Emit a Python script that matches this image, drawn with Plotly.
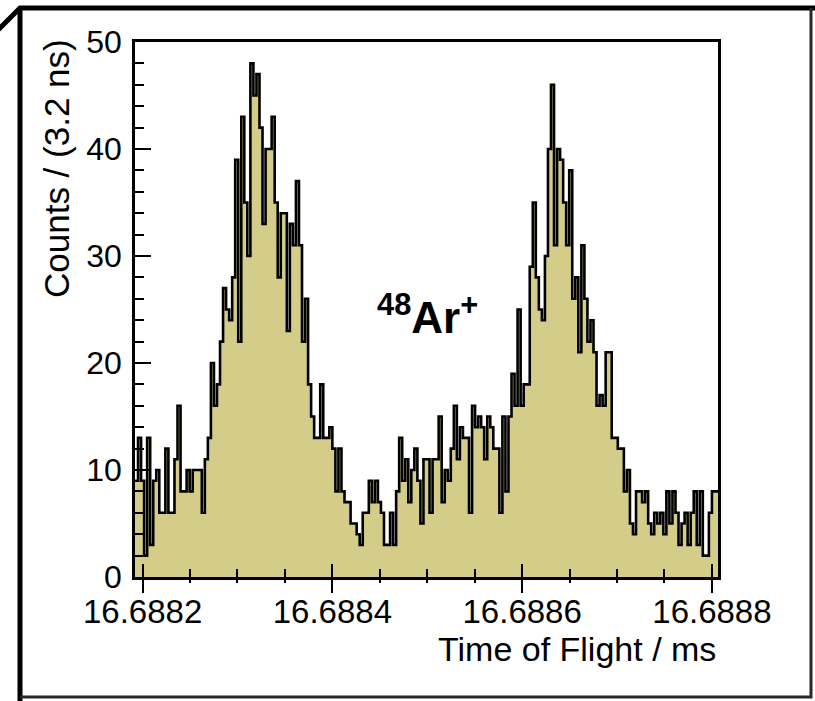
import plotly.graph_objects as go

# ---- data ----
bin_start = 16.688192      # ms, left edge of first bin
bin_width = 0.0000032      # ms (3.2 ns)
counts = [
    9, 13, 9, 2, 13, 3, 9, 10, 6, 6, 12, 6, 6, 11, 16, 8, 8, 10, 8, 10,
    10, 10, 6, 11, 13, 20, 16, 18, 22, 27, 25, 24, 28, 39, 22, 43, 35, 30, 48, 45,
    47, 42, 33, 40, 40, 43, 35, 28, 34, 34, 23, 33, 31, 37, 31, 22, 26, 18, 15, 13,
    13, 18, 13, 13, 14, 12, 8, 12, 8, 7, 7, 5, 5, 4, 3, 6, 6, 9, 7, 9,
    7, 6, 3, 3, 6, 3, 8, 13, 9, 11, 7, 10, 12, 9, 5, 11, 11, 6, 11, 11,
    15, 7, 10, 9, 12, 16, 11, 14, 13, 13, 6, 16, 14, 15, 14, 11, 15, 14, 12, 12,
    6, 15, 8, 15, 19, 16, 25, 16, 18, 18, 29, 35, 28, 25, 24, 30, 40, 46, 31, 40,
    39, 35, 31, 38, 26, 28, 21, 31, 26, 22, 24, 21, 16, 17, 16, 21, 21, 13, 13, 12,
    12, 8, 10, 5, 4, 8, 8, 7, 8, 5, 4, 6, 5, 6, 4, 8, 5, 8, 6, 3,
    5, 6, 3, 6, 8, 3, 8, 2, 2, 6, 8, 8,
]
x_tick0 = 16.6882
x_major = 0.0002
x_minor = 0.00005
y_range = [0, 50]
x_title = "Time of Flight / ms"
y_title = "Counts / (3.2 ns)"
label_text = "<b><sup>48</sup>Ar<sup>+</sup></b>"

N = len(counts)
edges = [bin_start + i * bin_width for i in range(N + 1)]
xs = edges
ys = counts + [counts[-1]]

FILL = "rgb(211,205,137)"
FONT = "Liberation Sans, Arial, Helvetica, sans-serif"

fig = go.Figure()
fig.add_trace(go.Scatter(
    x=xs, y=ys, mode="lines", line_shape="hv",
    line=dict(color="black", width=2.6),
    fill="tozeroy", fillcolor=FILL, hoverinfo="skip", showlegend=False,
))
# invisible trace on overlay axis (for outward tick extension, ROOT "+-" ticks)
fig.add_trace(go.Scatter(x=[edges[0]], y=[0], xaxis="x2", mode="markers",
                         marker=dict(opacity=0), showlegend=False, hoverinfo="skip"))

xr = [edges[0], edges[-1]]
fig.update_layout(
    width=815, height=701,
    margin=dict(l=135, r=97, t=42, b=124),
    paper_bgcolor="white", plot_bgcolor="white",
    font=dict(family=FONT, color="black", size=32),
    xaxis=dict(
        range=xr, showgrid=False, zeroline=False,
        showline=True, linecolor="black", linewidth=2.5, mirror=True,
        ticks="inside", ticklen=13, tickwidth=2, tickcolor="black",
        tick0=x_tick0, dtick=x_major, tickformat=".4f",
        minor=dict(ticks="inside", ticklen=8, tickwidth=2, tickcolor="black",
                   tick0=x_tick0, dtick=x_minor, showgrid=False),
        tickfont=dict(size=33), ticklabelstandoff=4,
    ),
    xaxis2=dict(
        range=xr, overlaying="x", anchor="y", side="bottom",
        showgrid=False, zeroline=False, showline=False,
        ticks="outside", ticklen=15, tickwidth=2, tickcolor="black",
        tick0=x_tick0, dtick=x_major, showticklabels=False,
        minor=dict(ticks="outside", ticklen=5, tickwidth=2, tickcolor="black",
                   tick0=x_tick0, dtick=x_minor, showgrid=False),
    ),
    yaxis=dict(
        range=y_range, showgrid=False, zeroline=False,
        showline=True, linecolor="black", linewidth=2.5, mirror=True,
        ticks="inside", ticklen=16, tickwidth=2, tickcolor="black",
        tick0=0, dtick=10,
        minor=dict(ticks="inside", ticklen=9, tickwidth=2, tickcolor="black",
                   dtick=2, showgrid=False),
        tickfont=dict(size=32), ticklabelstandoff=4,
    ),
)

# axis titles (ROOT style: aligned to the end of the axis)
fig.add_annotation(text=x_title, xref="paper", yref="paper", x=1, y=0,
                   xanchor="right", yanchor="top", yshift=-51, showarrow=False,
                   font=dict(size=34))
fig.add_annotation(text=y_title, xref="paper", yref="paper", x=0, y=1,
                   xanchor="right", yanchor="top", xshift=-57, yshift=5,
                   showarrow=False, textangle=-90, font=dict(size=35))
fig.add_annotation(text=label_text, xref="x", yref="y", x=16.6885, y=24.5,
                   showarrow=False, font=dict(size=44))

# outer frame
pw, ph = 815 - 135 - 97, 701 - 42 - 124
def px(v): return (v - 135) / pw
def py(v): return (577 - v) / ph
fig.add_shape(type="path", xref="paper", yref="paper",
              path=f"M {px(-5)} {py(33)} L {px(20)} {py(8)} L {px(820)} {py(8)} "
                   f"M {px(20)} {py(8)} L {px(20)} {py(705)}",
              line=dict(color="black", width=5))
fig.add_shape(type="path", xref="paper", yref="paper",
              path=f"M {px(811)} {py(8)} L {px(811)} {py(697)} L {px(20)} {py(697)}",
              line=dict(color="rgb(40,40,40)", width=3))

fig.write_html("out.html")
